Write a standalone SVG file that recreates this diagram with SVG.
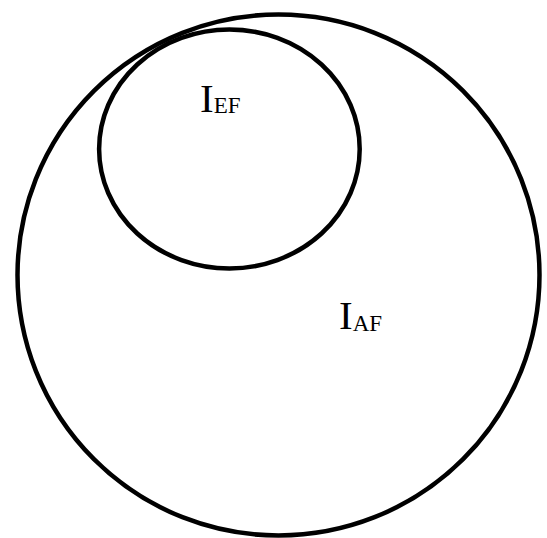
<svg xmlns="http://www.w3.org/2000/svg" width="547" height="538" viewBox="0 0 547 538">
<style>
.shape{fill:none;stroke:#000;stroke-width:4.5}
.lbl{font-family:"Liberation Serif","DejaVu Serif",serif;fill:#000}
.main{font-size:41px}
.sub{font-size:23px}
</style>
<rect width="547" height="538" fill="#fff"/>
<g id="AF">
<ellipse class="shape" cx="278.5" cy="275" rx="261" ry="260.5"/>
<text class="lbl" x="339" y="329"><tspan class="main">I</tspan><tspan class="sub" dy="2">AF</tspan></text>
</g>
<g id="EF">
<ellipse class="shape" cx="229.4" cy="149" rx="130.3" ry="119.5"/>
<text class="lbl" x="200" y="112"><tspan class="main">I</tspan><tspan class="sub" dy="1">EF</tspan></text>
</g>
<g id="connectors"/>
</svg>
